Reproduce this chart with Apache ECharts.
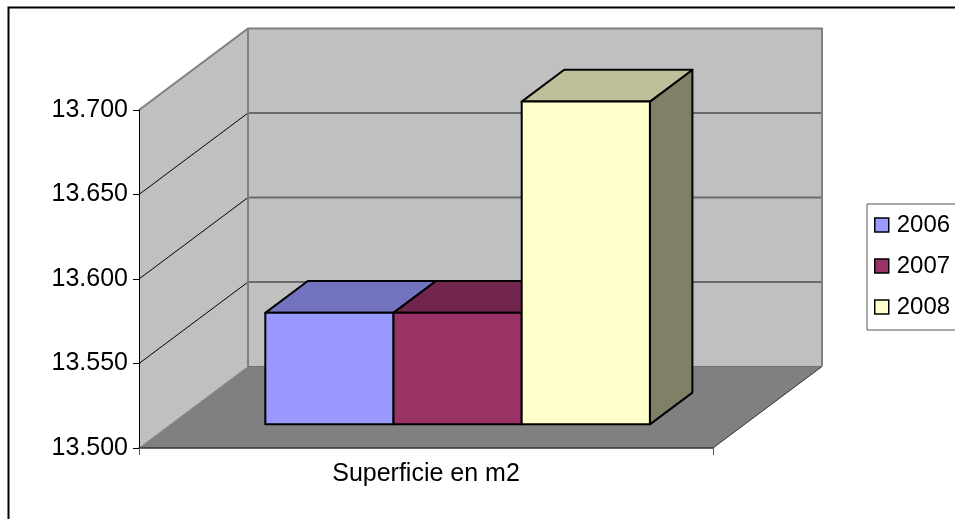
<!DOCTYPE html>
<html>
<head>
<meta charset="utf-8">
<script src="https://cdn.jsdelivr.net/npm/echarts@6/dist/echarts.min.js"></script>
<style>
  html, body { margin: 0; padding: 0; background: #fff; }
  #chart { width: 955px; height: 519px; }
</style>
</head>
<body>
<div id="chart"></div>
<script>
// ---- data ----
const categories = ['Superficie en m2'];
const seriesNames = ['2006', '2007', '2008'];
const values2006 = [13566];
const values2007 = [13566];
const values2008 = [13691];
const yTicks = [13500, 13550, 13600, 13650, 13700];

// ---- styles / projection ----
const FONT = "'Liberation Sans', Arial, sans-serif";
const frontColors = ['#9999FF', '#993366', '#FFFFCC'];
const DX = 109, DY = -81.5;      // oblique depth offset of the walls
const F0 = 0.29, F1 = 0.68;      // depth fraction of bars front/back
const GROUP = 0.67;              // fraction of category band used by bars
const Y_MIN = yTicks[0], Y_MAX = yTicks[yTicks.length - 1];

function shade(hex, f) {
  const n = parseInt(hex.slice(1), 16);
  const r = Math.round(((n >> 16) & 255) * f);
  const g = Math.round(((n >> 8) & 255) * f);
  const b = Math.round((n & 255) * f);
  return 'rgb(' + r + ',' + g + ',' + b + ')';
}

function wallRender(params, api) {
  const band = api.size([1, 0])[0];
  const c0 = api.coord([0, Y_MIN]);
  const cT = api.coord([0, Y_MAX]);
  const x0 = c0[0] - band / 2, x1 = c0[0] + band / 2;
  const yB = c0[1], yT = cT[1];
  const ch = [];
  // side wall
  ch.push({ type: 'polygon', shape: { points: [[x0, yT], [x0, yB], [x0 + DX, yB + DY], [x0 + DX, yT + DY]] },
    style: { fill: '#C0C0C0', stroke: null } });
  // back wall
  ch.push({ type: 'polygon', shape: { points: [[x0 + DX, yT + DY], [x1 + DX, yT + DY], [x1 + DX, yB + DY], [x0 + DX, yB + DY]] },
    style: { fill: '#C0C0C0', stroke: null } });
  // gridlines
  yTicks.forEach(function (v) {
    if (v === Y_MIN || v === Y_MAX) return;
    const y = api.coord([0, v])[1];
    ch.push({ type: 'line', shape: { x1: x0, y1: y, x2: x0 + DX, y2: y + DY }, style: { stroke: '#000', lineWidth: 1 } });
    ch.push({ type: 'line', shape: { x1: x0 + DX, y1: y + DY, x2: x1 + DX, y2: y + DY }, style: { stroke: '#6a6a6a', lineWidth: 2 } });
  });
  // wall outlines
  ch.push({ type: 'polyline', shape: { points: [[x0, yT], [x0 + DX, yT + DY], [x1 + DX, yT + DY], [x1 + DX, yB + DY]] },
    style: { stroke: '#808080', lineWidth: 2, fill: null } });
  ch.push({ type: 'line', shape: { x1: x0 + DX, y1: yT + DY, x2: x0 + DX, y2: yB + DY }, style: { stroke: '#808080', lineWidth: 2 } });
  // floor
  ch.push({ type: 'polygon', shape: { points: [[x0, yB], [x1, yB], [x1 + DX, yB + DY], [x0 + DX, yB + DY]] },
    style: { fill: '#808080', stroke: null } });
  ch.push({ type: 'line', shape: { x1: x0, y1: yB, x2: x0 + DX, y2: yB + DY }, style: { stroke: '#8a8a8a', lineWidth: 1 } });
  ch.push({ type: 'line', shape: { x1: x1, y1: yB, x2: x1 + DX, y2: yB + DY }, style: { stroke: '#333', lineWidth: 1 } });
  ch.push({ type: 'line', shape: { x1: x0 + DX, y1: yB + DY, x2: x1 + DX, y2: yB + DY }, style: { stroke: '#707070', lineWidth: 1 } });
  return { type: 'group', children: ch };
}

function barRender(k) {
  return function (params, api) {
    const band = api.size([1, 0])[0];
    const base = api.coord([api.value(0), Y_MIN]);
    const top = api.coord([api.value(0), api.value(1)]);
    const bw = band * GROUP / 3;
    const xl = base[0] - band * GROUP / 2 + k * bw + DX * F0;
    const xr = xl + bw;
    const yb = base[1] + DY * F0;
    const yt = top[1] + DY * F0;
    const ddx = DX * (F1 - F0), ddy = DY * (F1 - F0);
    const col = frontColors[k];
    const st = { stroke: '#000', lineWidth: 2, lineJoin: 'round' };
    return {
      type: 'group',
      children: [
        { type: 'polygon', shape: { points: [[xr, yb], [xr + ddx, yb + ddy], [xr + ddx, yt + ddy], [xr, yt]] },
          style: Object.assign({ fill: shade(col, 0.5) }, st) },
        { type: 'polygon', shape: { points: [[xl, yt], [xr, yt], [xr + ddx, yt + ddy], [xl + ddx, yt + ddy]] },
          style: Object.assign({ fill: shade(col, 0.75) }, st) },
        { type: 'polygon', shape: { points: [[xl, yb], [xr, yb], [xr, yt], [xl, yt]] },
          style: Object.assign({ fill: col }, st) }
      ]
    };
  };
}

const allValues = [values2006, values2007, values2008];
const barSeries = seriesNames.map(function (name, k) {
  return {
    name: name,
    type: 'custom',
    z: 3 + k,
    itemStyle: { color: frontColors[k] },
    encode: { x: 0, y: 1 },
    renderItem: barRender(k),
    data: categories.map(function (c, i) { return [i, allValues[k][i]]; })
  };
});

const chart = echarts.init(document.getElementById('chart'), null, { renderer: 'canvas' });
chart.setOption({
  animation: false,
  backgroundColor: '#fff',
  textStyle: { fontFamily: FONT },
  graphic: [{
    type: 'rect', left: 6, top: 5, shape: { x: 0, y: 0, width: 965, height: 530 },
    style: { fill: null, stroke: '#000', lineWidth: 2 }, z: -1
  }, {
    type: 'rect', left: 864.5, top: 201.5, shape: { x: 0, y: 0, width: 120, height: 126 },
    style: { fill: null, stroke: '#555', lineWidth: 1 }, z: 20
  }],
  grid: { left: 139, right: 242, top: 110, bottom: 71, containLabel: false },
  legend: {
    data: seriesNames,
    orient: 'vertical',
    left: 864, top: 201,
    padding: [10, 4, 6, 10],
    itemWidth: 14, itemHeight: 14, itemGap: 13,
    icon: 'rect',
    itemStyle: { borderColor: '#000', borderWidth: 1.5 },
    textStyle: { fontSize: 24, color: '#000', fontFamily: FONT, lineHeight: 28, padding: [0, 0, 0, 3] }
  },
  xAxis: {
    type: 'category',
    data: categories,
    z: 10,
    axisLine: { lineStyle: { color: '#333', width: 1.5 } },
    axisTick: { show: true, length: 7, lineStyle: { color: '#555' } },
    axisLabel: { fontSize: 25, color: '#000', margin: 14, fontFamily: FONT },
    splitLine: { show: false }
  },
  yAxis: {
    type: 'value',
    min: Y_MIN, max: Y_MAX, interval: 50,
    z: 10,
    axisLine: { show: true, lineStyle: { color: '#000', width: 1 } },
    axisTick: { show: true, length: 6, lineStyle: { color: '#000' } },
    axisLabel: {
      fontSize: 25, color: '#000', margin: 11, fontFamily: FONT,
      formatter: function (v) { return String(v).replace(/\B(?=(\d{3})+(?!\d))/g, '.'); }
    },
    splitLine: { show: false }
  },
  series: [{
    name: 'walls', type: 'custom', z: 1, silent: true,
    encode: { x: 0, y: 1 },
    renderItem: wallRender,
    data: [[0, Y_MIN]]
  }].concat(barSeries)
});
</script>
</body>
</html>
